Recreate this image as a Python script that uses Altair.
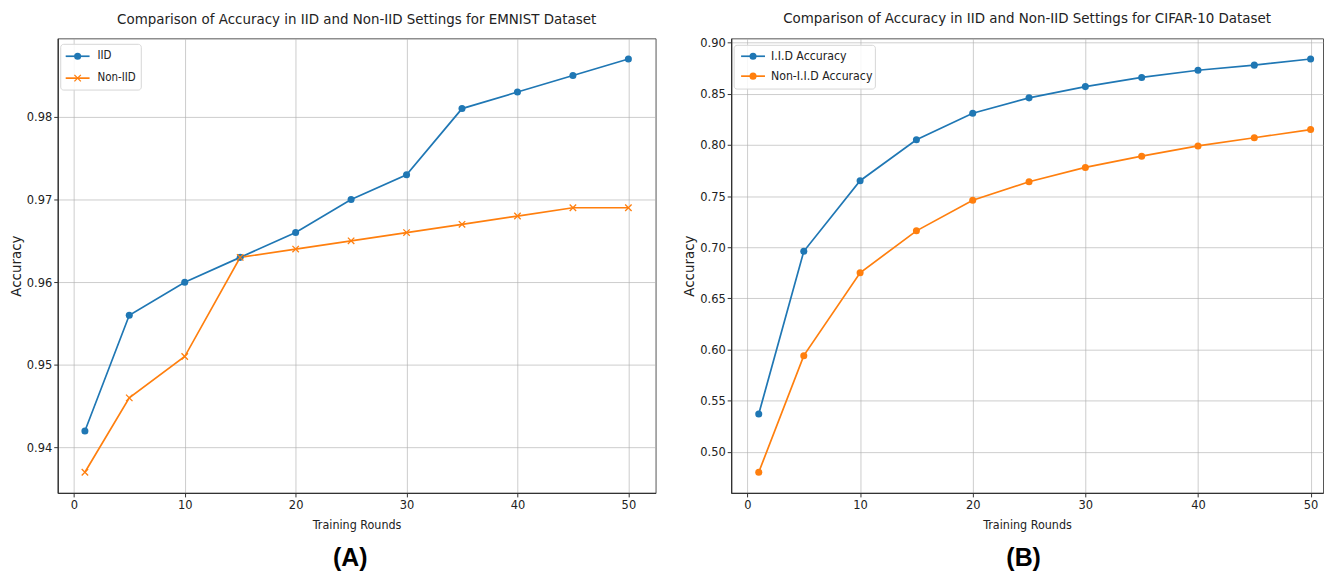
import altair as alt
import pandas as pd

# ---------------- data ----------------
rounds = [1, 5, 10, 15, 20, 25, 30, 35, 40, 45, 50]
emnist_iid = [0.942, 0.956, 0.960, 0.963, 0.966, 0.970, 0.973, 0.981, 0.983, 0.985, 0.987]
emnist_noniid = [0.937, 0.946, 0.951, 0.963, 0.964, 0.965, 0.966, 0.967, 0.968, 0.969, 0.969]
cifar_iid = [0.537, 0.696, 0.765, 0.805, 0.831, 0.846, 0.857, 0.866, 0.873, 0.878, 0.884]
cifar_noniid = [0.480, 0.594, 0.675, 0.716, 0.746, 0.764, 0.778, 0.789, 0.799, 0.807, 0.815]

x_ticks = [0, 10, 20, 30, 40, 50]
emnist_y_ticks = [0.94, 0.95, 0.96, 0.97, 0.98]
cifar_y_ticks = [0.50, 0.55, 0.60, 0.65, 0.70, 0.75, 0.80, 0.85, 0.90]

emnist_labels = ["IID", "Non-IID"]
cifar_labels = ["I.I.D Accuracy", "Non-I.I.D Accuracy"]

title_a = "Comparison of Accuracy in IID and Non-IID Settings for EMNIST Dataset"
title_b = "Comparison of Accuracy in IID and Non-IID Settings for CIFAR-10 Dataset"

BLUE = "#1f77b4"
ORANGE = "#ff7f0e"
NARROW = "DejaVu Sans Condensed, Liberation Sans Narrow, DejaVu Sans, sans-serif"
REG = "DejaVu Sans, Liberation Sans, sans-serif"
BOLD = "Liberation Sans, Arial, sans-serif"
XPATH = "M-1,-1L1,1M-1,1L1,-1"


def one():
    return pd.DataFrame({"k": [0]})


def panel(iid, noniid, labels, title, title_offset, x_max, y_dom, y_ticks, width, height,
          non_shape, leg, panel_label, label_pos):
    df = pd.DataFrame({
        "round": rounds * 2,
        "acc": iid + noniid,
        "series": [labels[0]] * len(rounds) + [labels[1]] * len(rounds),
    })
    x = alt.X("round:Q",
              scale=alt.Scale(domain=[-1.45, x_max], nice=False, zero=False),
              axis=alt.Axis(values=x_ticks, format="d", title="Training Rounds", titlePadding=7))
    y = alt.Y("acc:Q",
              scale=alt.Scale(domain=y_dom, nice=False, zero=False),
              axis=alt.Axis(values=y_ticks, format=".2f", title="Accuracy",
                            titleFont=REG, titleFontSize=13.5))
    base = alt.Chart(df)
    lines = base.mark_line(strokeWidth=1.7).encode(
        x=x, y=y,
        color=alt.Color("series:N", scale=alt.Scale(domain=labels, range=[BLUE, ORANGE]), legend=None),
        detail="series:N",
    )
    p1 = base.transform_filter(alt.datum.series == labels[0]).mark_point(
        filled=True, size=50, opacity=1, color=BLUE, shape="circle").encode(x=x, y=y)
    if non_shape == "x":
        p2 = base.transform_filter(alt.datum.series == labels[1]).mark_point(
            filled=False, size=42, opacity=1, color=ORANGE, shape=XPATH, strokeWidth=1.3).encode(x=x, y=y)
    else:
        p2 = base.transform_filter(alt.datum.series == labels[1]).mark_point(
            filled=True, size=50, opacity=1, color=ORANGE, shape="circle").encode(x=x, y=y)

    # legend box (matplotlib-like)
    bx0, bx1, by0, by1, rows_y, lx0, lx1, tx, fs = leg
    box = alt.Chart(one()).mark_rect(fill="white", fillOpacity=0.85, stroke="#d6d6d6",
                                     strokeWidth=1, cornerRadius=3).encode(
        x=alt.value(bx0), x2=alt.value(bx1), y=alt.value(by0), y2=alt.value(by1))
    legend_layers = [box]
    for i, (lab, col) in enumerate(zip(labels, [BLUE, ORANGE])):
        yy = rows_y[i]
        legend_layers.append(alt.Chart(one()).mark_rule(color=col, strokeWidth=1.7).encode(
            x=alt.value(lx0), x2=alt.value(lx1), y=alt.value(yy)))
        if i == 1 and non_shape == "x":
            legend_layers.append(alt.Chart(one()).mark_point(
                filled=False, size=42, opacity=1, color=col, shape=XPATH, strokeWidth=1.3).encode(
                x=alt.value((lx0 + lx1) / 2), y=alt.value(yy)))
        else:
            legend_layers.append(alt.Chart(one()).mark_point(
                filled=True, size=50, opacity=1, color=col, shape="circle").encode(
                x=alt.value((lx0 + lx1) / 2), y=alt.value(yy)))
        legend_layers.append(alt.Chart(one()).mark_text(
            align="left", baseline="middle", font=NARROW, fontSize=fs, color="#222").encode(
            x=alt.value(tx), y=alt.value(yy), text=alt.value(lab)))

    plabel = alt.Chart(one()).mark_text(
        align="center", baseline="middle", font=BOLD, fontSize=25, fontWeight="bold", color="#000").encode(
        x=alt.value(label_pos[0]), y=alt.value(label_pos[1]), text=alt.value(panel_label))

    return alt.layer(lines, p1, p2, *legend_layers, plabel).properties(
        width=width, height=height,
        title=alt.TitleParams(title, font=NARROW, fontSize=15, fontWeight="normal",
                              color="#222", offset=title_offset, anchor="middle"),
    )


left = panel(emnist_iid, emnist_noniid, emnist_labels, title_a, 11, 52.45,
             [0.9345, 0.9895], emnist_y_ticks, 601, 457, "x",
             (3, 84, 6, 52, [18, 40], 8, 32, 40, 11.5), "(A)", (294, 522))
right = panel(cifar_iid, cifar_noniid, cifar_labels, title_b, 11, 51.1,
              [0.4598, 0.9042], cifar_y_ticks, 595, 457, "circle",
              (3, 145, 7, 51, [18, 38], 10, 34, 40, 12.3), "(B)", (294, 522))

chart = alt.hconcat(left, right, spacing=25).properties(
    padding={"left": 0, "top": 0, "right": 0, "bottom": 0}
).configure_view(
    stroke="#555", strokeWidth=1
).configure_axis(
    labelFont=NARROW, labelFontSize=12.8, labelColor="#222",
    titleFont=NARROW, titleFontSize=12.5, titleColor="#222", titleFontWeight="normal",
    tickColor="#333", tickSize=4, labelPadding=2, titlePadding=3,
    gridColor="#b0b0b0", gridWidth=0.8, gridOpacity=0.8,
    domainColor="#333", domainWidth=1.3,
)

chart.save("out.html", embed_options={"renderer": "svg", "actions": False})
